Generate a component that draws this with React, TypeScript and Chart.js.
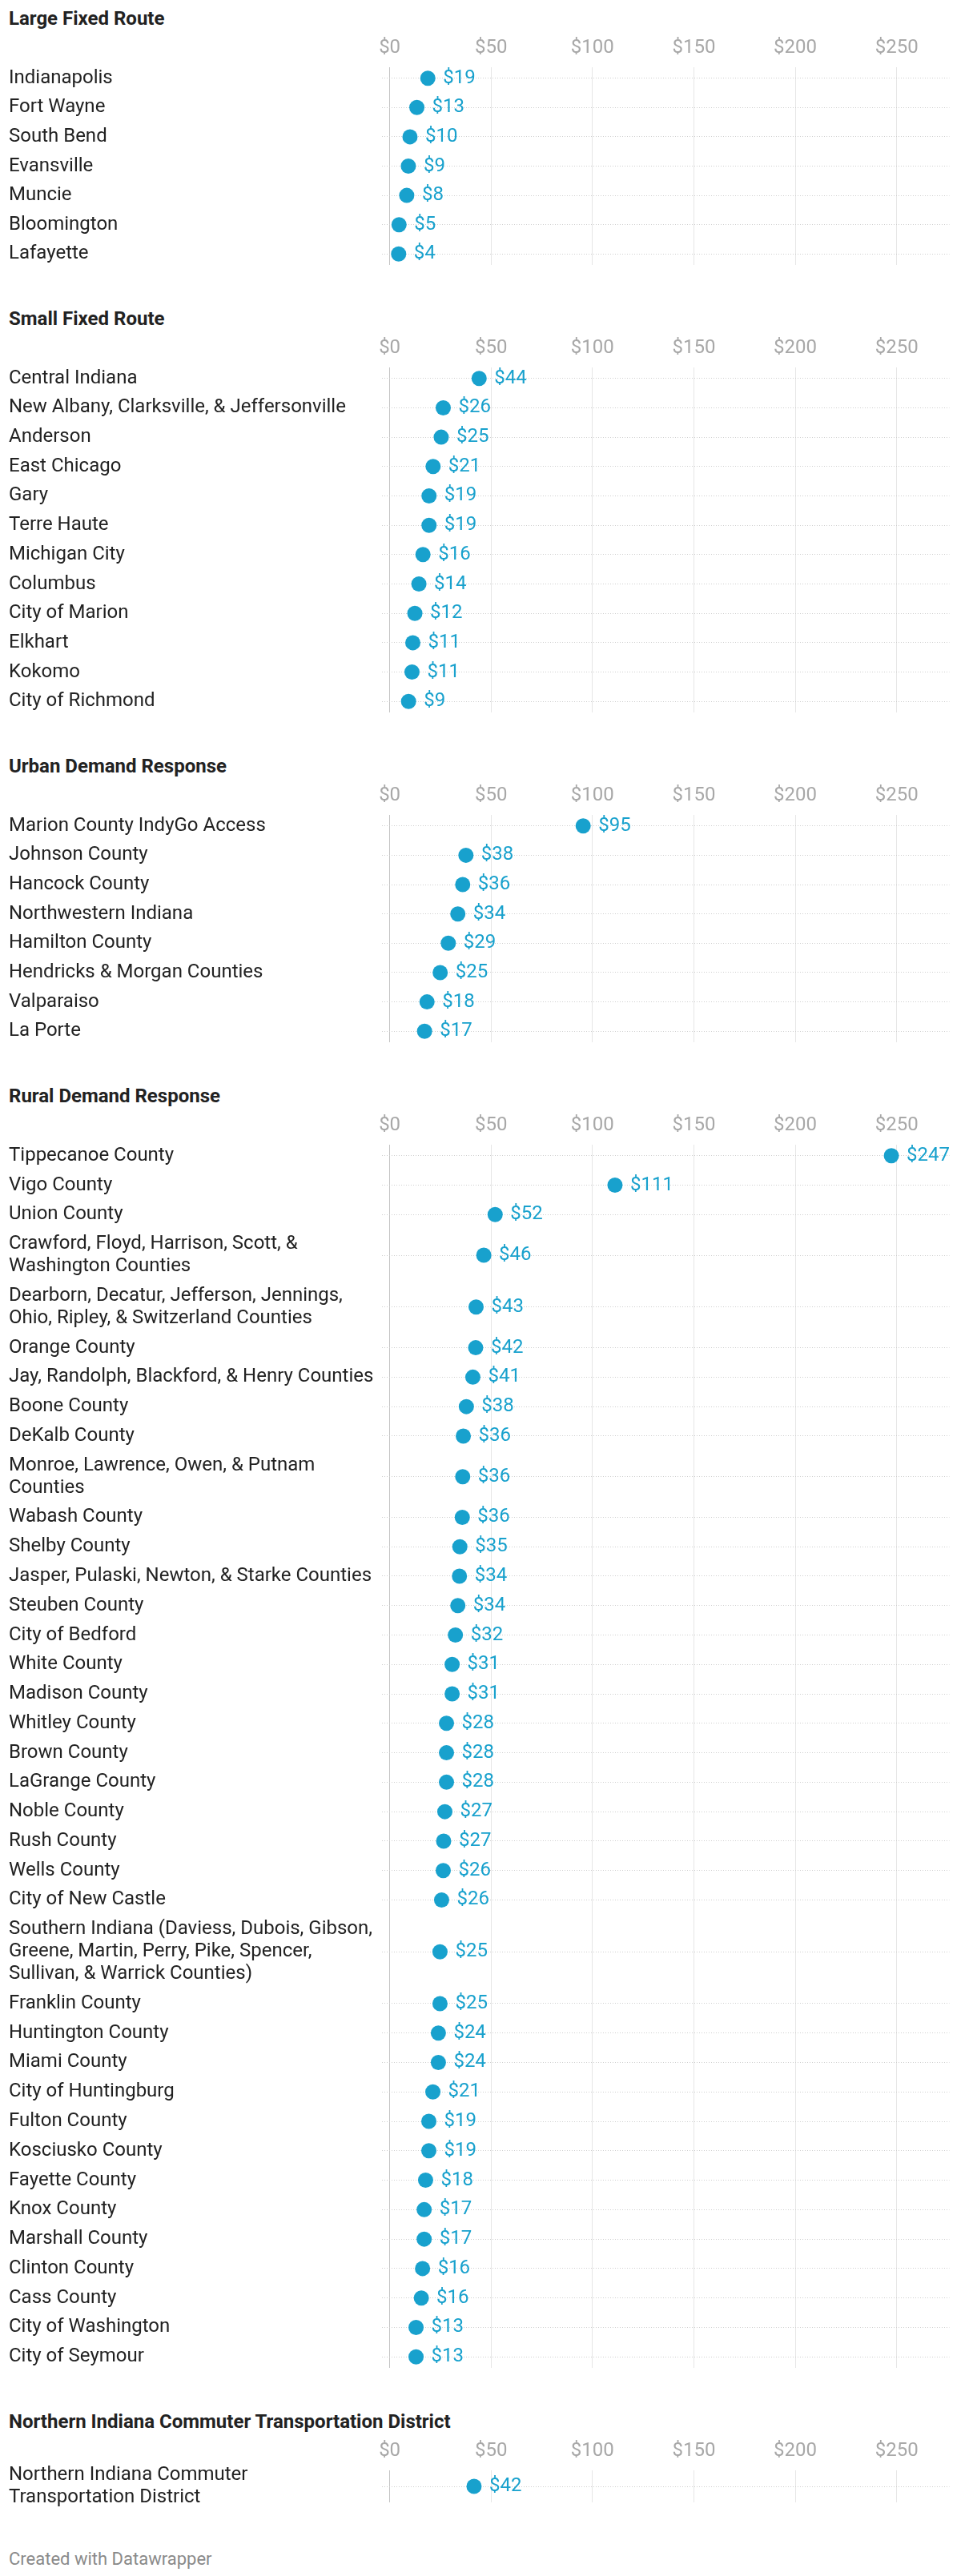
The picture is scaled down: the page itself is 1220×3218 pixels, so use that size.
import React, { useEffect, useRef } from "react";
import { Chart, registerables } from "chart.js";

Chart.register(...registerables);

// ---------- data ----------
const X_TICKS = [0, 50, 100, 150, 200, 250];

const LARGE_TITLE = "Large Fixed Route";
const LARGE_LABELS: (string | string[])[] = [
  "Indianapolis", "Fort Wayne", "South Bend", "Evansville", "Muncie", "Bloomington", "Lafayette",
];
const LARGE_VALUES = [18.8, 13.4, 10.0, 9.2, 8.4, 4.6, 4.4];

const SMALL_TITLE = "Small Fixed Route";
const SMALL_LABELS: (string | string[])[] = [
  "Central Indiana", "New Albany, Clarksville, & Jeffersonville", "Anderson", "East Chicago", "Gary",
  "Terre Haute", "Michigan City", "Columbus", "City of Marion", "Elkhart", "Kokomo", "City of Richmond",
];
const SMALL_VALUES = [44.1, 26.4, 25.4, 21.4, 19.4, 19.4, 16.4, 14.4, 12.4, 11.4, 11.0, 9.3];

const URBAN_TITLE = "Urban Demand Response";
const URBAN_LABELS: (string | string[])[] = [
  "Marion County IndyGo Access", "Johnson County", "Hancock County", "Northwestern Indiana",
  "Hamilton County", "Hendricks & Morgan Counties", "Valparaiso", "La Porte",
];
const URBAN_VALUES = [95.4, 37.6, 36.0, 33.6, 28.9, 24.9, 18.4, 17.2];

const RURAL_TITLE = "Rural Demand Response";
const RURAL_LABELS: (string | string[])[] = [
  "Tippecanoe County", "Vigo County", "Union County",
  ["Crawford, Floyd, Harrison, Scott, &", "Washington Counties"],
  ["Dearborn, Decatur, Jefferson, Jennings,", "Ohio, Ripley, & Switzerland Counties"],
  "Orange County", "Jay, Randolph, Blackford, & Henry Counties", "Boone County", "DeKalb County",
  ["Monroe, Lawrence, Owen, & Putnam", "Counties"],
  "Wabash County", "Shelby County", "Jasper, Pulaski, Newton, & Starke Counties", "Steuben County",
  "City of Bedford", "White County", "Madison County", "Whitley County", "Brown County",
  "LaGrange County", "Noble County", "Rush County", "Wells County", "City of New Castle",
  ["Southern Indiana (Daviess, Dubois, Gibson,", "Greene, Martin, Perry, Pike, Spencer,", "Sullivan, & Warrick Counties)"],
  "Franklin County", "Huntington County", "Miami County", "City of Huntingburg", "Fulton County",
  "Kosciusko County", "Fayette County", "Knox County", "Marshall County", "Clinton County",
  "Cass County", "City of Washington", "City of Seymour",
];
const RURAL_VALUES = [
  247.4, 111.1, 52.0, 46.4, 42.6, 42.4, 41.0, 37.8, 36.3, 36.0,
  35.8, 34.6, 34.4, 33.6, 32.4, 30.8, 30.8, 28.0, 28.0, 28.0,
  27.2, 26.6, 26.4, 25.6, 24.8, 24.8, 24.0, 24.0, 21.3, 19.3,
  19.3, 17.7, 17.0, 17.0, 16.2, 15.6, 13.0, 13.0,
];

const NICTD_TITLE = "Northern Indiana Commuter Transportation District";
const NICTD_LABELS: (string | string[])[] = [["Northern Indiana Commuter", "Transportation District"]];
const NICTD_VALUES = [41.6];

const FOOTER = "Created with Datawrapper";

// ---------- style / layout ----------
const FONT = "Roboto";
const FS = 24;
const BLUE = "#18a1cd";
const CANVAS_W = 1204;
const ROW_H = 36.8;
const LINE_H = 28;
const INSET = 4.6;
const AXIS_H = 40;
const PLOT_LEFT = 469;
const PLOT_RIGHT = 1177.5;
const PAD_LEFT = 3;
const X_MIN = -3.8;
const X_MAX = 276;

const valueLabelPlugin = {
  id: "valueLabels",
  afterDatasetsDraw(chart: any) {
    const ctx = chart.ctx;
    const meta = chart.getDatasetMeta(0);
    const ds = chart.data.datasets[0].data as any[];
    ctx.save();
    ctx.font = `${FS}px ${FONT}`;
    ctx.fillStyle = BLUE;
    ctx.textAlign = "left";
    ctx.textBaseline = "middle";
    meta.data.forEach((pt: any, i: number) => {
      ctx.fillText("$" + Math.round(ds[i].x), pt.x + 19, pt.y);
    });
    ctx.restore();
  },
};

function Panel({ title, labels, values }: { title: string; labels: (string | string[])[]; values: number[] }) {
  const ref = useRef<HTMLCanvasElement | null>(null);

  const heights = labels.map((l) => ROW_H + LINE_H * ((Array.isArray(l) ? l.length : 1) - 1));
  const centers: number[] = [];
  let acc = 0;
  heights.forEach((h) => {
    centers.push(acc + h / 2);
    acc += h;
  });
  const total = acc;
  const plotH = total - 2 * INSET;
  const canvasH = Math.ceil(AXIS_H + plotH + 12);
  const padBottom = canvasH - AXIS_H - plotH;

  useEffect(() => {
    if (!ref.current) return;
    const chart = new Chart(ref.current, {
      type: "scatter",
      data: {
        datasets: [
          {
            data: values.map((v, i) => ({ x: v, y: centers[i] })),
            pointRadius: 9.5,
            pointHoverRadius: 9.5,
            pointBackgroundColor: BLUE,
            pointBorderWidth: 0,
            borderWidth: 0,
          },
        ],
      },
      options: {
        animation: false,
        responsive: false,
        events: [],
        layout: { padding: { left: PAD_LEFT, right: CANVAS_W - PLOT_RIGHT, top: 0, bottom: padBottom } },
        plugins: { legend: { display: false }, tooltip: { enabled: false }, title: { display: false } },
        scales: {
          x: {
            type: "linear",
            position: "top",
            min: X_MIN,
            max: X_MAX,
            afterBuildTicks: (axis: any) => {
              axis.ticks = X_TICKS.map((v) => ({ value: v }));
            },
            afterFit: (axis: any) => {
              axis.height = AXIS_H;
            },
            ticks: {
              autoSkip: false,
              maxRotation: 0,
              padding: 10.1,
              color: "#a8a8a8",
              font: { family: FONT, size: FS },
              callback: (v: any) => "$" + v,
            },
            grid: {
              drawTicks: false,
              lineWidth: 1,
              color: (ctx: any) => (ctx.tick && ctx.tick.value === 0 ? "#c4c4c4" : "#e6e6e6"),
            },
            border: { display: false },
          },
          y: {
            type: "linear",
            reverse: true,
            min: INSET,
            max: total - INSET,
            afterBuildTicks: (axis: any) => {
              axis.ticks = centers.map((c) => ({ value: c }));
            },
            afterFit: (axis: any) => {
              axis.width = PLOT_LEFT - PAD_LEFT;
            },
            ticks: {
              autoSkip: false,
              crossAlign: "far",
              padding: 0,
              color: "#222222",
              font: { family: FONT, size: FS, lineHeight: LINE_H / FS },
              callback: (_v: any, idx: number) => labels[idx] as any,
            },
            grid: { drawTicks: false, lineWidth: 1, color: "#cfcfcf" },
            border: { display: false, dash: [1, 2] },
          },
        },
      },
      plugins: [valueLabelPlugin],
    } as any);
    return () => chart.destroy();
  }, []);

  return (
    <div style={{ paddingBottom: 38.3 }}>
      <div
        style={{
          height: 30,
          lineHeight: "30px",
          fontSize: FS,
          fontWeight: 700,
          color: "#222222",
          paddingLeft: PAD_LEFT,
          marginBottom: 5.7,
          whiteSpace: "nowrap",
        }}
      >
        {title}
      </div>
      <canvas ref={ref} width={CANVAS_W} height={canvasH} style={{ display: "block", width: CANVAS_W, height: canvasH }} />
    </div>
  );
}

export default function App() {
  return (
    <div style={{ fontFamily: FONT, width: CANVAS_W, background: "#ffffff" }}>
      <Panel title={LARGE_TITLE} labels={LARGE_LABELS} values={LARGE_VALUES} />
      <Panel title={SMALL_TITLE} labels={SMALL_LABELS} values={SMALL_VALUES} />
      <Panel title={URBAN_TITLE} labels={URBAN_LABELS} values={URBAN_VALUES} />
      <Panel title={RURAL_TITLE} labels={RURAL_LABELS} values={RURAL_VALUES} />
      <Panel title={NICTD_TITLE} labels={NICTD_LABELS} values={NICTD_VALUES} />
      <div
        style={{
          marginTop: 28 - 38.3,
          height: 30,
          lineHeight: "30px",
          fontSize: 22,
          color: "#8a8a8a",
          paddingLeft: PAD_LEFT,
        }}
      >
        {FOOTER}
      </div>
    </div>
  );
}
